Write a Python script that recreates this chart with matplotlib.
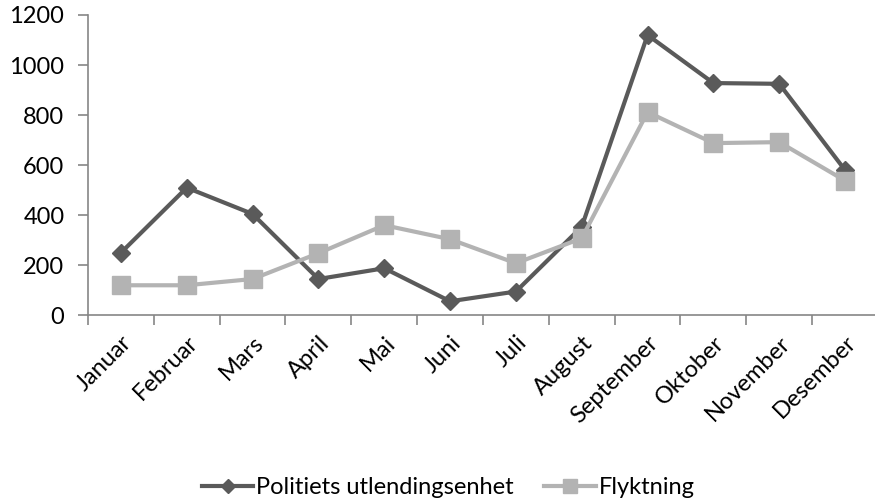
import matplotlib.pyplot as plt
import numpy as np

plt.rcParams['font.family'] = ['Lato', 'DejaVu Sans']

months = ['Januar', 'Februar', 'Mars', 'April', 'Mai', 'Juni', 'Juli',
          'August', 'September', 'Oktober', 'November', 'Desember']
politi = [250, 510, 405, 145, 188, 56, 95, 354, 1120, 928, 925, 580]
flyktning = [120, 120, 145, 248, 360, 304, 208, 308, 812, 688, 692, 538]

dark = '#5a5a5a'
light = '#b3b3b3'
axis_col = '#868686'

fig = plt.figure(figsize=(8.75, 5.01), dpi=100)
ax = fig.add_axes([88 / 875, 1 - 315.3 / 501, 790 / 875, 300.3 / 501])

x = np.arange(len(months))
ax.plot(x, politi, color=dark, lw=3, marker='D', ms=9, label='Politiets utlendingsenhet', zorder=3)
ax.plot(x, flyktning, color=light, lw=3, marker='s', ms=13, label='Flyktning', zorder=4)

ax.set_xlim(-0.5, 11.5)
ax.set_ylim(0, 1200)
ax.set_yticks(range(0, 1201, 200))
ax.set_xticks(x)
ax.set_xticklabels(months, rotation=45, ha='right', rotation_mode='anchor', fontsize=17)
ax.set_xticks(np.arange(-0.5, 12, 1), minor=True)
ax.tick_params(axis='x', which='major', length=0, pad=12)
ax.tick_params(axis='x', which='minor', length=7, color=axis_col, width=1.2)
ax.tick_params(axis='y', length=7, color=axis_col, width=1.2, labelsize=17, pad=10)

for s in ['top', 'right']:
    ax.spines[s].set_visible(False)
for s in ['left', 'bottom']:
    ax.spines[s].set_color(axis_col)
    ax.spines[s].set_linewidth(1.2)

leg = fig.legend(loc='center', bbox_to_anchor=(0.512, 0.026), ncol=2, frameon=False,
                 fontsize=17, handlelength=2.2, columnspacing=1.3, handletextpad=0.1,
                 markerscale=0.75)

fig.savefig('out.png', dpi=100)
